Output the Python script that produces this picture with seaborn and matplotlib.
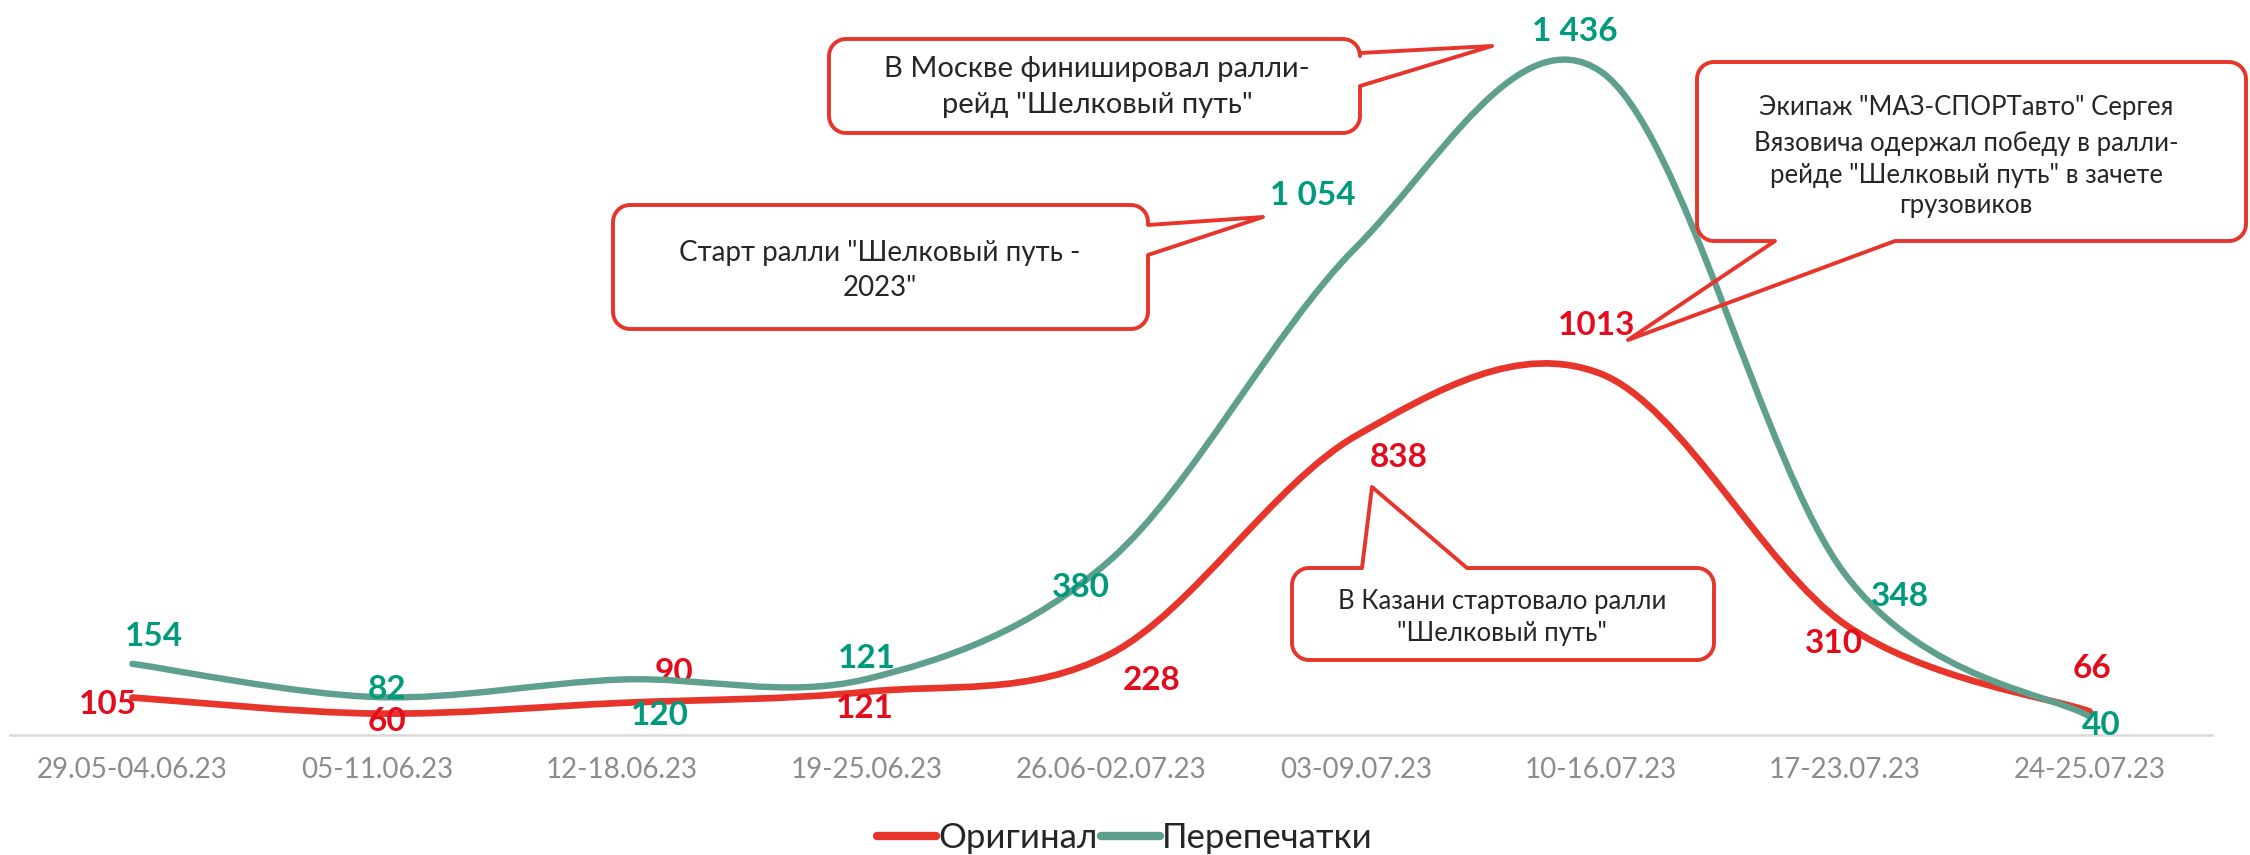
import numpy as np
import matplotlib
matplotlib.use("Agg")
import matplotlib.pyplot as plt
import seaborn as sns
from matplotlib.path import Path
from matplotlib.patches import PathPatch, Polygon
from matplotlib.lines import Line2D
from matplotlib.transforms import IdentityTransform

weeks = ["29.05-04.06.23", "05-11.06.23", "12-18.06.23", "19-25.06.23", "26.06-02.07.23",
         "03-09.07.23", "10-16.07.23", "17-23.07.23", "24-25.07.23"]
original = [105, 60, 90, 121, 228, 838, 1013, 310, 66]
reprints = [154, 82, 120, 121, 380, 1054, 1436, 348, 40]
original_labels = ["105", "60", "90", "121", "228", "838", "1013", "310", "66"]
reprints_labels = ["154", "82", "120", "121", "380", "1 054", "1 436", "348", "40"]

RED_LINE = "#E8352B"
RED_TEXT = "#E30B1C"
TEAL_LINE = "#5E9F8D"
TEAL_TEXT = "#009B7D"

sns.set_theme(style="white")
plt.rcParams['font.family'] = ['Lato', 'DejaVu Sans']

W, H = 2250, 855
fig = plt.figure(figsize=(W / 100, H / 100), dpi=100)
ax = fig.add_axes([10 / W, 1 - 735 / H, 2202 / W, 735 / H])
ax2 = ax.twinx()


def smooth_path(xs, ys):
    # Excel-style smoothed line: cubic bezier segments through every point
    pts = np.column_stack([xs, ys]).astype(float)
    ext = np.vstack([pts[0], pts, pts[-1]])
    verts = [pts[0]]
    codes = [Path.MOVETO]
    for i in range(len(pts) - 1):
        p0, p1, p2, p3 = ext[i], ext[i + 1], ext[i + 2], ext[i + 3]
        verts += [p1 + (p2 - p0) / 6, p2 - (p3 - p1) / 6, p2]
        codes += [Path.CURVE4] * 3
    return Path(verts, codes)


x = np.arange(len(weeks))
ax.add_patch(PathPatch(smooth_path(x, original), fill=False, edgecolor=RED_LINE,
                       lw=4.8, capstyle='round', zorder=3))
ax2.add_patch(PathPatch(smooth_path(x, reprints), fill=False, edgecolor=TEAL_LINE,
                        lw=4.6, capstyle='round', zorder=2))

ax.set_xlim(-0.5, len(weeks) - 0.5)
ax.set_ylim(0, 2060)
ax2.set_ylim(0, 1590)
ax.set_xticks(x)
ax.set_xticklabels(weeks, color="#8C8C8C", fontsize=20)
ax.tick_params(axis='x', length=0, pad=16)
ax.set_yticks([])
ax2.set_yticks([])
sns.despine(ax=ax, left=True, right=True, top=True)
sns.despine(ax=ax2, left=True, right=True, top=True)
ax2.spines['bottom'].set_visible(False)
ax.spines['bottom'].set_color("#D9D9D9")
ax.spines['bottom'].set_linewidth(1.8)
ax.grid(False)
ax2.grid(False)

# data labels (offsets in pixels from the point)
red_off = [(-24, -7), (10, -8), (52, 30), (-1, -17), (41, -27), (43, -21), (-4, 48), (-11, -19), (2, 43)]
teal_off = [(22, 27), (10, 8), (38, -36), (1, 21), (-30, -28), (-43, 52), (-26, 40), (55, -22), (12, -9)]
for i, (v, t, o) in enumerate(zip(original, original_labels, red_off)):
    ax.annotate(t, (i, v), xytext=o, textcoords='offset pixels', ha='center', va='center',
                color=RED_TEXT, fontsize=24, fontweight='bold', zorder=5)
for i, (v, t, o) in enumerate(zip(reprints, reprints_labels, teal_off)):
    ax2.annotate(t, (i, v), xytext=o, textcoords='offset pixels', ha='center', va='center',
                 color=TEAL_TEXT, fontsize=24, fontweight='bold', zorder=5)


def callout(x0, y0, x1, y1, side, b0, b1, tip, r=17):
    def arc(cx, cy, a0, a1):
        a = np.radians(np.linspace(a0, a1, 12))
        return list(zip(cx + r * np.cos(a), cy + r * np.sin(a)))
    pts = [(x0 + r, y0)]
    if side == 'top':
        pts += [(b0, y0), tip, (b1, y0)]
    pts += arc(x1 - r, y0 + r, -90, 0)
    if side == 'right':
        pts += [(x1, b0), tip, (x1, b1)]
    pts += arc(x1 - r, y1 - r, 0, 90)
    if side == 'bottom':
        pts += [(b1, y1), tip, (b0, y1)]
    pts += arc(x0 + r, y1 - r, 90, 180)
    pts += arc(x0 + r, y0 + r, 180, 270)
    pts = [(px, H - py) for px, py in pts]
    fig.add_artist(Polygon(pts, closed=True, facecolor='none', edgecolor=RED_LINE,
                           lw=2.8, joinstyle='round', transform=IdentityTransform(), zorder=6))


def box_text(cx, ys, lines, size=18):
    for yy, s in zip(ys, lines):
        fig.text(cx / W, 1 - yy / H, s, ha='center', va='center', fontsize=size, color="#262626")


callout(829, 39, 1360, 133, 'right', 53, 86, (1492, 46))
box_text(1097, [69, 105], ['В Москве финишировал ралли-', 'рейд "Шелковый путь"'], size=21)

callout(613, 205, 1148, 329, 'right', 225, 255, (1263, 217))
box_text(880, [253, 288], ['Старт ралли "Шелковый путь -', '2023"'], size=20)

callout(1292, 568, 1714, 660, 'top', 1362, 1467, (1372, 487))
box_text(1502, [601, 633], ['В Казани стартовало ралли', '"Шелковый путь"'], size=18.5)

callout(1697, 62, 2246, 241, 'bottom', 1775, 1895, (1628, 340))
box_text(1966, [108, 143, 175, 205], ['Экипаж "МАЗ-СПОРТавто" Сергея', 'Вязовича одержал победу в ралли-',
                                      'рейде "Шелковый путь" в зачете', 'грузовиков'], size=18.5)

handles = [Line2D([], [], color=RED_LINE, lw=6), Line2D([], [], color=TEAL_LINE, lw=6)]
fig.legend(handles, ['Оригинал', 'Перепечатки'], loc='center', bbox_to_anchor=(0.5, 1 - 838 / H),
           ncol=2, frameon=False, fontsize=25, handlelength=1.7, handletextpad=0.05,
           columnspacing=0.1, labelcolor="#262626")

fig.savefig("out.png", dpi=100)
